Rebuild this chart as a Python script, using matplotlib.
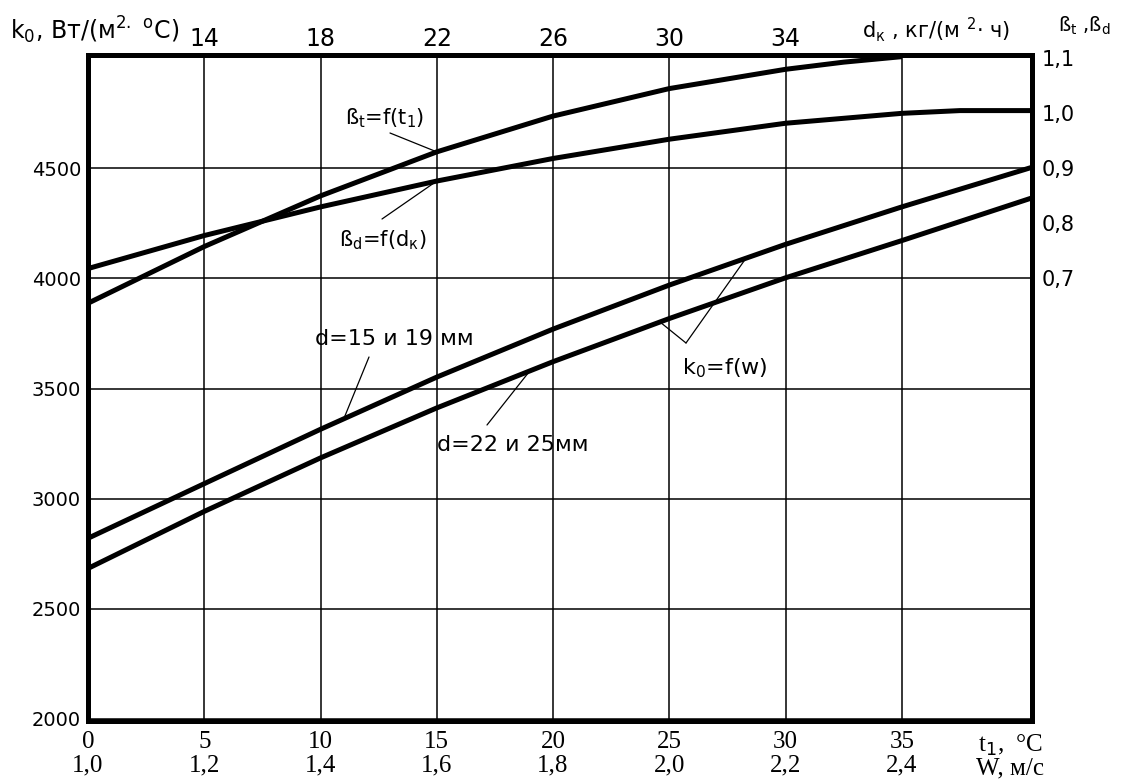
import matplotlib
matplotlib.use("Agg")
import matplotlib.pyplot as plt
from matplotlib.ticker import FixedLocator
import numpy as np

plt.rcParams['font.family'] = ['DejaVu Sans']
plt.rcParams['mathtext.fontset'] = 'dejavusans'

# ---- data -------------------------------------------------------------
# heat transfer coefficient k0 versus water velocity (bottom axis t1 / W)
t1_k = [0, 5, 10, 15, 20, 25, 30, 35, 40.6]
k0_d15_19 = [2820, 3068, 3315, 3552, 3770, 3970, 4155, 4325, 4505]
k0_d22_25 = [2683, 2942, 3185, 3412, 3622, 3818, 4003, 4172, 4366]

# correction factor for air temperature t1
t1_beta = [0, 5, 10, 15, 20, 25, 30, 32.5, 35]
beta_t = [0.655, 0.758, 0.850, 0.930, 0.995, 1.045, 1.080, 1.093, 1.103]

# correction factor for condensate load dk (top axis)
dk_beta = [10, 14, 18, 22, 26, 30, 34, 38, 40, 42.48]
beta_d = [0.718, 0.778, 0.830, 0.877, 0.918, 0.953, 0.982, 1.0, 1.005, 1.005]

t1_ticks = [0, 5, 10, 15, 20, 25, 30, 35]
w_ticks = [1.0, 1.2, 1.4, 1.6, 1.8, 2.0, 2.2, 2.4]
dk_ticks = [14, 18, 22, 26, 30, 34]
k_ticks = [2000, 2500, 3000, 3500, 4000, 4500]
beta_ticks = [0.7, 0.8, 0.9, 1.0, 1.1]

# ---- axis relations ---------------------------------------------------
T1_MAX = 40.6
K_LIM = (1990, 5015)


def t1_to_w(t):
    return 1.0 + 0.04 * np.asarray(t)


def w_to_t1(w):
    return (np.asarray(w) - 1.0) / 0.04


def t1_to_dk(t):
    return 10 + 0.8 * np.asarray(t)


def k_to_beta(k):
    return 0.7 + (np.asarray(k) - 4000) / 2500


W, H = 1123, 780


def px(x, y):
    return (x / W, 1 - y / H)


fig = plt.figure(figsize=(W / 100, H / 100), dpi=100)
ax = fig.add_axes([88 / W, 1 - 721 / H, (1032 - 88) / W, (721 - 55) / H])
ax.set_xlim(0, T1_MAX)
ax.set_ylim(*K_LIM)

# grid
ax.xaxis.set_major_locator(FixedLocator(t1_ticks))
ax.yaxis.set_major_locator(FixedLocator(k_ticks))
ax.grid(True, color='black', linewidth=1.1)
ax.tick_params(axis='both', length=0)
ax.tick_params(axis='y', labelsize=14, pad=5)
ax.tick_params(axis='x', pad=7)
ax.set_xticklabels([str(t) for t in t1_ticks], fontfamily='Liberation Serif', fontsize=18)
for s in ax.spines.values():
    s.set_linewidth(3.6)
    s.set_zorder(5)

# second row under the bottom axis: water velocity W
sec = ax.secondary_xaxis(-0.04, functions=(t1_to_w, w_to_t1))
sec.set_xticks(w_ticks)
sec.set_xticklabels([f"{w:.1f}".replace('.', ',') for w in w_ticks],
                    fontfamily='Liberation Serif', fontsize=18)
sec.tick_params(length=0, pad=5)
sec.spines['bottom'].set_visible(False)

line_kw = dict(color='black', lw=3.6, solid_capstyle='butt', solid_joinstyle='round')

# k0 curves
ax.plot(t1_k, k0_d15_19, zorder=3, **line_kw)
ax.plot(t1_k, k0_d22_25, zorder=3, **line_kw)

# beta axis on the right
axb = ax.twinx()
axb.set_ylim(k_to_beta(K_LIM[0]), k_to_beta(K_LIM[1]))
axb.set_xlim(0, T1_MAX)
axb.yaxis.set_major_locator(FixedLocator(beta_ticks))
axb.set_yticklabels([f"{b:.1f}".replace('.', ',') for b in beta_ticks], fontsize=15)
axb.yaxis.set_minor_locator(FixedLocator([0.8]))
axb.tick_params(axis='y', which='major', length=0, pad=7)
axb.tick_params(axis='y', which='minor', length=16, width=1.1, direction='in')
for s in axb.spines.values():
    s.set_visible(False)
axb.plot(t1_beta, beta_t, **line_kw)

# dk axis on top, sharing the beta scale
axd = axb.twiny()
axd.set_xlim(t1_to_dk(0), t1_to_dk(T1_MAX))
axd.xaxis.set_major_locator(FixedLocator(dk_ticks))
axd.tick_params(axis='x', length=0, labelsize=17, pad=3)
for s in axd.spines.values():
    s.set_visible(False)
axd.plot(dk_beta, beta_d, **line_kw)

# axis captions
fig.text(*px(10, 30), r"k$_0$, Вт/(м$^{2.}$ $^{\mathrm{o}}$C)", fontsize=17,
         ha='left', va='center')
fig.text(*px(862, 30), r"d$_{\mathrm{к}}$ , кг/(м $^{2}$· ч)", fontsize=15,
         ha='left', va='center')
fig.text(*px(1058, 26), r"ß$_{\mathrm{t}}$ ,ß$_{\mathrm{d}}$", fontsize=14,
         ha='left', va='center')
fig.text(*px(978, 745), r"t$_{\mathrm{1}}$,  °C", fontfamily='Liberation Serif',
         fontsize=18, ha='left', va='center')
fig.text(*px(976, 768), "W, м/с", fontfamily='Liberation Serif',
         fontsize=18, ha='left', va='center')

# curve labels with leader lines
lead = dict(arrowstyle='-', color='black', lw=0.9, shrinkA=0, shrinkB=0)

fig.text(*px(385, 118), r"ß$_{\mathrm{t}}$=f(t$_{\mathrm{1}}$)", fontsize=15,
         ha='center', va='center')
axb.annotate('', xy=(15, np.interp(15, t1_beta, beta_t)),
             xytext=px(390, 133), textcoords='figure fraction', arrowprops=lead)

fig.text(*px(383, 240), r"ß$_{\mathrm{d}}$=f(d$_{\mathrm{к}}$)", fontsize=15,
         ha='center', va='center')
axd.annotate('', xy=(22, np.interp(22, dk_beta, beta_d)),
             xytext=px(382, 219), textcoords='figure fraction', arrowprops=lead)

fig.text(*px(394, 339), "d=15 и 19 мм", fontsize=16, ha='center', va='center')
ax.annotate('', xy=(11, np.interp(11, t1_k, k0_d15_19)),
            xytext=px(369, 357), textcoords='figure fraction', arrowprops=lead)

fig.text(*px(513, 445), "d=22 и 25мм", fontsize=16, ha='center', va='center')
ax.annotate('', xy=(19, np.interp(19, t1_k, k0_d22_25)),
            xytext=px(487, 425), textcoords='figure fraction', arrowprops=lead)

fig.text(*px(725, 368), r"k$_0$=f(w)", fontsize=16, ha='center', va='center')
ax.annotate('', xy=(24.6, np.interp(24.6, t1_k, k0_d22_25)),
            xytext=px(686, 343), textcoords='figure fraction', arrowprops=lead)
ax.annotate('', xy=(28.3, np.interp(28.3, t1_k, k0_d15_19)),
            xytext=px(686, 343), textcoords='figure fraction', arrowprops=lead)

fig.savefig("out.png", dpi=100, facecolor='white')
